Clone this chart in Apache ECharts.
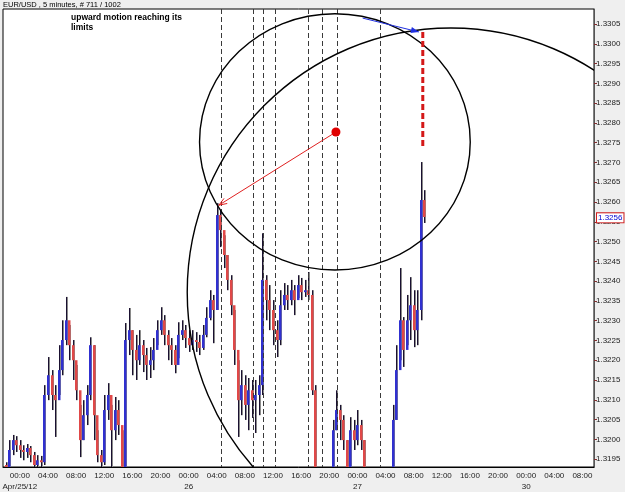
<!DOCTYPE html>
<html>
<head>
<meta charset="utf-8">
<script src="https://cdn.jsdelivr.net/npm/echarts@6/dist/echarts.min.js"></script>
<style>
  html, body { margin: 0; padding: 0; background: #efefef; }
  #chart { width: 625px; height: 492px; }
</style>
</head>
<body>
<div id="chart"></div>
<script>
// x axis: one slot = 30 min, slot 4 = Apr/25 00:00, labels every 4h
var timeLabels = ['00:00', '04:00', '08:00', '12:00', '16:00', '20:00',
  '00:00', '04:00', '08:00', '12:00', '16:00', '20:00',
  '00:00', '04:00', '08:00', '12:00', '16:00', '20:00',
  '00:00', '04:00', '08:00'];
var dateLabels = ['Apr/25/12', '', '', '', '', '', '26', '', '', '', '', '', '27', '', '', '', '', '', '30', '', ''];
var yTicks = [1.3195, 1.3200, 1.3205, 1.3210, 1.3215, 1.3220, 1.3225, 1.3230, 1.3235, 1.3240,
  1.3245, 1.3250, 1.3255, 1.3260, 1.3265, 1.3270, 1.3275, 1.3280, 1.3285, 1.3290,
  1.3295, 1.3300, 1.3305];
var yMin = 1.3193, yMax = 1.33088;

// EUR/USD bars
var firstOpen = 1.31935;
var closeP = [
  1.31922, 1.31973, 1.31998, 1.31985, 1.31973, 1.31968, 1.31978, 1.31960, 1.31935, 1.31947,
  1.31942, 1.32112, 1.32162, 1.32112, 1.32099, 1.32175, 1.32251, 1.32301, 1.32238, 1.32200,
  1.32124, 1.31998, 1.32061, 1.32112, 1.32238, 1.32061, 1.31960, 1.31942, 1.32074, 1.32112,
  1.32023, 1.32074, 1.32036, 1.31922, 1.32251, 1.32276, 1.32226, 1.32200, 1.32238, 1.32213,
  1.32188, 1.32200, 1.32226, 1.32276, 1.32301, 1.32264, 1.32238, 1.32226, 1.32188, 1.32264,
  1.32276, 1.32256, 1.32238, 1.32251, 1.32246, 1.32231, 1.32264, 1.32307, 1.32352, 1.32327,
  1.32567, 1.32529, 1.32466, 1.32403, 1.32339, 1.32226, 1.32099, 1.32137, 1.32087, 1.32124,
  1.32099, 1.32112, 1.32137, 1.32403, 1.32352, 1.32327, 1.32276, 1.32251, 1.32339, 1.32365,
  1.32352, 1.32377, 1.32352, 1.32390, 1.32372, 1.32377, 1.32365, 1.32124, 1.31922, 1.31872,
  1.31846, 1.31859, 1.31897, 1.32023, 1.32074, 1.32049, 1.31998, 1.31910, 1.32023, 1.31998,
  1.32036, 1.31998, 1.31897, 1.31872, 1.31859, 1.31872, 1.31884, 1.31877, 1.31884, 1.31897,
  1.32049, 1.32175, 1.32301, 1.32226, 1.32301, 1.32339, 1.32276, 1.32327, 1.32605, 1.32562
];
var highP = [
  1.31942, 1.31998, 1.32011, 1.32008, 1.31998, 1.31985, 1.31988, 1.31983, 1.31968, 1.31960,
  1.31958, 1.32137, 1.32208, 1.32175, 1.32137, 1.32238, 1.32301, 1.32360, 1.32289, 1.32251,
  1.32188, 1.32087, 1.32099, 1.32137, 1.32258, 1.32238, 1.32023, 1.31973, 1.32112, 1.32142,
  1.32087, 1.32107, 1.32099, 1.32023, 1.32294, 1.32332, 1.32276, 1.32264, 1.32276, 1.32251,
  1.32231, 1.32233, 1.32256, 1.32301, 1.32334, 1.32314, 1.32276, 1.32256, 1.32238, 1.32296,
  1.32301, 1.32289, 1.32276, 1.32276, 1.32271, 1.32264, 1.32289, 1.32334, 1.32377, 1.32365,
  1.32597, 1.32580, 1.32516, 1.32466, 1.32415, 1.32327, 1.32200, 1.32175, 1.32162, 1.32155,
  1.32150, 1.32150, 1.32162, 1.32521, 1.32415, 1.32390, 1.32352, 1.32301, 1.32377, 1.32395,
  1.32390, 1.32403, 1.32390, 1.32415, 1.32408, 1.32403, 1.32423, 1.32377, 1.32137, 1.31927,
  1.31897, 1.31897, 1.31922, 1.32049, 1.32124, 1.32087, 1.32061, 1.31998, 1.32056, 1.32049,
  1.32074, 1.32049, 1.31998, 1.31910, 1.31897, 1.31902, 1.31910, 1.31907, 1.31910, 1.31922,
  1.32087, 1.32238, 1.32433, 1.32309, 1.32365, 1.32410, 1.32377, 1.32377, 1.32701, 1.32630
];
var lowP = [
  1.31897, 1.31922, 1.31960, 1.31968, 1.31953, 1.31947, 1.31953, 1.31942, 1.31917, 1.31922,
  1.31917, 1.31935, 1.32099, 1.32074, 1.32006, 1.32112, 1.32162, 1.32238, 1.32200, 1.32150,
  1.32099, 1.31955, 1.31998, 1.32036, 1.32099, 1.31998, 1.31942, 1.31917, 1.31935, 1.32049,
  1.31930, 1.31998, 1.32011, 1.31897, 1.31922, 1.32213, 1.32162, 1.32150, 1.32188, 1.32170,
  1.32150, 1.32155, 1.32175, 1.32238, 1.32264, 1.32238, 1.32200, 1.32188, 1.32167, 1.32205,
  1.32251, 1.32231, 1.32221, 1.32226, 1.32221, 1.32213, 1.32226, 1.32258, 1.32301, 1.32243,
  1.32327, 1.32486, 1.32433, 1.32377, 1.32314, 1.32188, 1.32006, 1.32061, 1.32049, 1.32023,
  1.32054, 1.32016, 1.32061, 1.32112, 1.32301, 1.32276, 1.32238, 1.32208, 1.32238, 1.32327,
  1.32327, 1.32339, 1.32314, 1.32357, 1.32352, 1.32360, 1.32352, 1.32112, 1.31897, 1.31846,
  1.31821, 1.31834, 1.31859, 1.31910, 1.32023, 1.31998, 1.31973, 1.31884, 1.31922, 1.31973,
  1.31985, 1.31973, 1.31872, 1.31846, 1.31834, 1.31846, 1.31859, 1.31851, 1.31859, 1.31872,
  1.31897, 1.32049, 1.32200, 1.32183, 1.32238, 1.32251, 1.32233, 1.32238, 1.32301, 1.32547
];
var lastPrice = 1.3256;

// drawn objects, anchored in [slot, price]
var dashX = [61.2, 70.3, 73.1, 76.5, 85.9, 89.9, 94.2, 106.4];
var ellSmall = { c: [93.6, 1.32752], rx: 38.5, ry: 0.00324 };
var ellBig = { c: [126.6, 1.32372], rx: 75.0, ry: 0.00668 };
var redDot = [93.9, 1.32777];
var redArrow = [[93.9, 1.32777], [60.6, 1.32592]];
var blueArrow = [[101.5, 1.33065], [117.5, 1.33030]];
var redDash = [[118.6, 1.33030], [118.6, 1.32736]];

var tickPos = timeLabels.map(function (t, k) { return 4 + 8 * k; });
var bars = closeP.map(function (c, i) {
  return [i, i ? closeP[i - 1] : firstOpen, c, lowP[i], highP[i]];
});

function renderBar(params, api) {
  var i = api.value(0), o = api.value(1), c = api.value(2);
  var pO = api.coord([i, o]), pC = api.coord([i, c]);
  var pL = api.coord([i, api.value(3)]), pH = api.coord([i, api.value(4)]);
  var x = Math.round(pO[0]) + 0.5;
  var top = Math.min(pO[1], pC[1]), bot = Math.max(pO[1], pC[1]);
  return {
    type: 'group',
    children: [
      { type: 'line', shape: { x1: x + 1, y1: pH[1], x2: x + 1, y2: pL[1] },
        style: { stroke: '#8a8a8a', lineWidth: 1 } },
      { type: 'line', shape: { x1: x, y1: pH[1], x2: x, y2: pL[1] },
        style: { stroke: '#1a1030', lineWidth: 1 } },
      { type: 'rect', shape: { x: x - 1.5, y: top, width: 2.5, height: Math.max(bot - top, 1) },
        style: { fill: c >= o ? '#3030d0' : '#e04848' } }
    ]
  };
}

function renderNotes(params, api) {
  var kids = [];
  var yTop = api.coord([0, yMax])[1], yBot = api.coord([0, yMin])[1];
  dashX.forEach(function (v) {
    var x = Math.round(api.coord([v, yMin])[0]) + 0.5;
    kids.push({ type: 'line', shape: { x1: x, y1: yTop, x2: x, y2: yBot },
      style: { stroke: '#3a3a3a', lineWidth: 1, lineDash: [5, 3] } });
  });
  [ellSmall, ellBig].forEach(function (e) {
    var c = api.coord(e.c);
    var ex = api.coord([e.c[0] + e.rx, e.c[1]]);
    var ey = api.coord([e.c[0], e.c[1] + e.ry]);
    kids.push({ type: 'ellipse', shape: { cx: c[0], cy: c[1], rx: ex[0] - c[0], ry: c[1] - ey[1] },
      style: { fill: null, stroke: '#000', lineWidth: 1.4 } });
  });
  // red dashed target line
  var d0 = api.coord(redDash[0]), d1 = api.coord(redDash[1]);
  kids.push({ type: 'line', shape: { x1: d0[0], y1: d0[1], x2: d1[0], y2: d1[1] },
    style: { stroke: '#d41818', lineWidth: 3, lineDash: [6, 3] } });
  // arrows
  function arrow(seg, color, filled) {
    var a = api.coord(seg[0]), b = api.coord(seg[1]);
    var dx = b[0] - a[0], dy = b[1] - a[1];
    var len = Math.sqrt(dx * dx + dy * dy), ux = dx / len, uy = dy / len;
    var hl = 8, hw = 3;
    var p1 = [b[0] - ux * hl - uy * hw, b[1] - uy * hl + ux * hw];
    var p2 = [b[0] - ux * hl + uy * hw, b[1] - uy * hl - ux * hw];
    kids.push({ type: 'line', shape: { x1: a[0], y1: a[1], x2: b[0], y2: b[1] },
      style: { stroke: color, lineWidth: 1 } });
    if (filled) {
      kids.push({ type: 'polygon', shape: { points: [b, p1, p2] }, style: { fill: color } });
    } else {
      kids.push({ type: 'polyline', shape: { points: [p1, b, p2] },
        style: { stroke: color, lineWidth: 1, fill: null } });
    }
  }
  arrow(redArrow, '#e02020', false);
  arrow(blueArrow, '#2030e0', true);
  var rd = api.coord(redDot);
  kids.push({ type: 'circle', shape: { cx: rd[0], cy: rd[1], r: 4.5 }, style: { fill: '#e00000' } });
  return { type: 'group', children: kids };
}

var chart = echarts.init(document.getElementById('chart'));
chart.setOption({
  animation: false,
  backgroundColor: '#efefef',
  grid: {
    left: 3, top: 9, right: 31, bottom: 25,
    show: true, backgroundColor: '#fff', borderColor: '#000', borderWidth: 1,
    outerBoundsMode: 'none'
  },
  xAxis: {
    type: 'value',
    min: -0.8,
    max: 167.3,
    splitLine: { show: false },
    axisLine: { show: true, onZero: false, lineStyle: { color: '#000' } },
    axisTick: { show: false, customValues: tickPos },
    axisLabel: {
      customValues: tickPos,
      fontSize: 8,
      fontFamily: 'Liberation Sans',
      color: '#222',
      lineHeight: 11,
      margin: 3,
      formatter: function (v) {
        var k = Math.round((v - 4) / 8);
        return timeLabels[k] + '\n' + dateLabels[k];
      }
    }
  },
  yAxis: {
    type: 'value',
    position: 'right',
    min: yMin,
    max: yMax,
    splitLine: { show: false },
    axisLine: { show: true, onZero: false, lineStyle: { color: '#555' } },
    axisTick: { show: true, length: 3, customValues: yTicks, lineStyle: { color: '#803030' } },
    axisLabel: {
      customValues: yTicks,
      fontSize: 8,
      fontFamily: 'Liberation Sans',
      color: '#222',
      margin: 2,
      formatter: function (v) { return v.toFixed(4); }
    }
  },
  graphic: [
    { type: 'text', left: 3, top: 1,
      style: { text: 'EUR/USD , 5 minutes, # 711 / 1002', font: '7.5px "Liberation Sans"', fill: '#000' } },
    { type: 'text', left: 71, top: 13,
      style: { text: 'upward motion reaching its\nlimits', font: 'bold 8.5px "Liberation Sans"', lineHeight: 10, fill: '#000' } }
  ],
  series: [
    {
      type: 'custom',
      clip: true,
      renderItem: renderBar,
      encode: { x: 0, y: [1, 2, 3, 4] },
      data: bars
    },
    {
      type: 'custom',
      clip: true,
      renderItem: renderNotes,
      data: [[60, 1.325]],
      z: 5
    }
  ]
});

// current price box on the price scale
var pp = chart.convertToPixel({ xAxisIndex: 0, yAxisIndex: 0 }, [167.3, lastPrice]);
chart.setOption({
  graphic: [
    { type: 'text', left: 3, top: 1,
      style: { text: 'EUR/USD , 5 minutes, # 711 / 1002', font: '7.5px "Liberation Sans"', fill: '#000' } },
    { type: 'text', left: 71, top: 13,
      style: { text: 'upward motion reaching its\nlimits', font: 'bold 8.5px "Liberation Sans"', lineHeight: 10, fill: '#000' } },
    { type: 'text', x: pp[0] + 3, y: pp[1], z: 20,
      style: {
        text: lastPrice.toFixed(4), font: '8px "Liberation Sans"', fill: '#0000d0',
        verticalAlign: 'middle', align: 'left',
        backgroundColor: '#fff', borderColor: '#d02020', borderWidth: 1, padding: [1, 1, 0, 1]
      } }
  ]
}, { replaceMerge: ['graphic'] });
</script>
</body>
</html>
